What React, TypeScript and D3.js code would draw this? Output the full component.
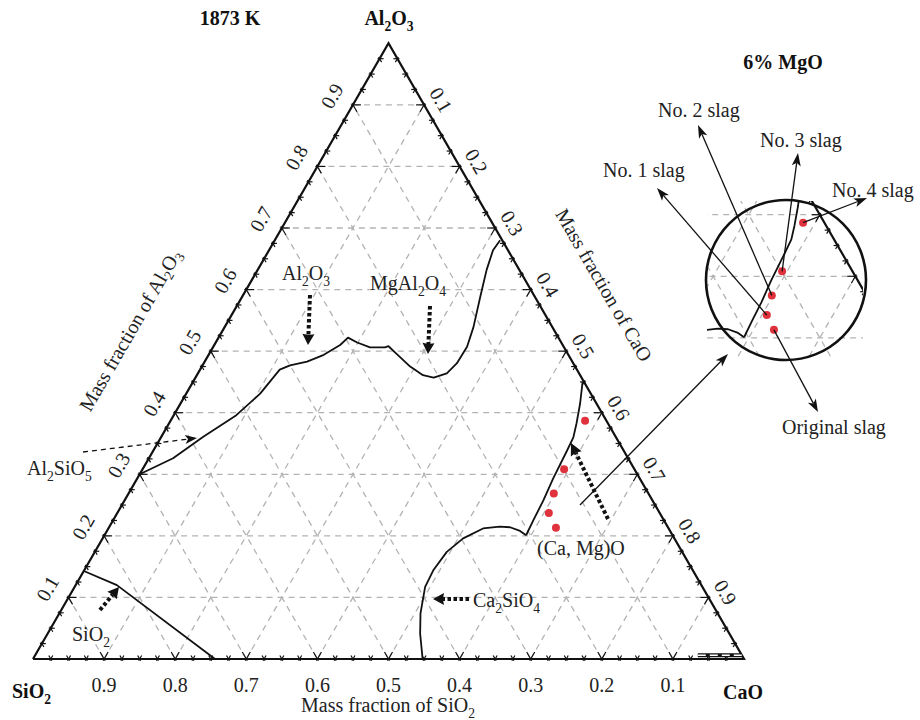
import React from 'react';
import * as d3 from 'd3';

// compositions are [SiO2, CaO, Al2O3] mass fractions
type Comp = [number, number, number];

const topBoundary: Comp[] = [
  [0.700, 0.000, 0.300], [0.640, 0.034, 0.326], [0.580, 0.059, 0.361], [0.516, 0.088, 0.396],
  [0.465, 0.104, 0.431], [0.418, 0.112, 0.470], [0.400, 0.123, 0.477], [0.373, 0.144, 0.483],
  [0.344, 0.162, 0.494], [0.313, 0.177, 0.510], [0.296, 0.182, 0.522], [0.287, 0.199, 0.514],
  [0.273, 0.221, 0.506], [0.252, 0.242, 0.506], [0.246, 0.246, 0.508], [0.241, 0.263, 0.496],
  [0.232, 0.293, 0.475], [0.221, 0.318, 0.461], [0.208, 0.335, 0.457], [0.186, 0.350, 0.464],
  [0.164, 0.356, 0.480], [0.136, 0.357, 0.507], [0.111, 0.350, 0.539], [0.077, 0.335, 0.588],
  [0.046, 0.322, 0.632], [0.021, 0.315, 0.664], [0.003, 0.317, 0.680]
];

const silicaBoundary: Comp[] = [
  [0.857, 0.000, 0.143], [0.822, 0.058, 0.120], [0.744, 0.256, 0.000]
];

const ca2sio4Boundary: Comp[] = [
  [0.452, 0.548, 0.000], [0.435, 0.524, 0.041], [0.418, 0.508, 0.074], [0.390, 0.493, 0.117],
  [0.364, 0.491, 0.145], [0.331, 0.495, 0.174], [0.297, 0.507, 0.196], [0.261, 0.527, 0.212],
  [0.236, 0.549, 0.215], [0.222, 0.564, 0.214], [0.211, 0.581, 0.208], [0.206, 0.593, 0.201]
];

const limeBoundary: Comp[] = [
  [0.206, 0.593, 0.201], [0.183, 0.591, 0.226], [0.153, 0.589, 0.258], [0.122, 0.585, 0.293],
  [0.081, 0.582, 0.337], [0.060, 0.580, 0.360], [0.044, 0.573, 0.383], [0.023, 0.562, 0.415],
  [0.002, 0.548, 0.450]
];

const cornerBoundary: Comp[] = [[0.062, 0.932, 0.006], [0.000, 0.994, 0.006]];

const slagNames = ['Original slag', 'No. 1 slag', 'No. 2 slag', 'No. 3 slag', 'No. 4 slag'];
const slagComps: Comp[] = [
  [0.158, 0.629, 0.213], [0.156, 0.607, 0.237], [0.133, 0.598, 0.269],
  [0.099, 0.593, 0.308], [0.030, 0.583, 0.387]
];

const gridLevels = [0.1, 0.2, 0.3, 0.4, 0.5, 0.6, 0.7, 0.8, 0.9];
const tickLabels = ['0.1', '0.2', '0.3', '0.4', '0.5', '0.6', '0.7', '0.8', '0.9'];
const minorTicks = d3.range(1, 40).map(i => i / 40);

const FONT = '"Liberation Serif", "Times New Roman", serif';

const x = d3.scaleLinear().domain([0, 1]).range([33, 744]);
const y = d3.scaleLinear().domain([0, 1]).range([659, 43.3]);
const proj = (d: Comp): [number, number] => [x(d[1] + d[2] / 2), y(d[2])];
const line = d3.line<Comp>().x(d => proj(d)[0]).y(d => proj(d)[1]);

// label positions for the slags inside the magnified inset
const insetShift = [218, -198];
const slagLabelEnds = [[818, 412], [657, 188], [698, 125], [798, 153], [867, 198]];

function Chem({ text, size }: { text: string; size: number }) {
  const parts = text.split(/_(\d)/);
  const sub = size * 0.3;
  return (
    <>
      {parts.map((p, i) =>
        i % 2 ? (
          <tspan key={i} dy={sub} fontSize={size * 0.68}>{p}</tspan>
        ) : (
          <tspan key={i} dy={i > 0 ? -sub : 0}>{p}</tspan>
        )
      )}
    </>
  );
}

function Arrow({ x1, y1, x2, y2, w = 1.2, dash, head = 12, hw = 4.5, notch = 0.75 }: any) {
  const ang = Math.atan2(y2 - y1, x2 - x1);
  const c = Math.cos(ang), s = Math.sin(ang);
  const bx = x2 - head * c, by = y2 - head * s;
  const nx = x2 - head * notch * c, ny = y2 - head * notch * s;
  const pts = [
    [x2, y2], [bx - hw * s, by + hw * c], [nx, ny], [bx + hw * s, by - hw * c]
  ].map(p => p.join(',')).join(' ');
  return (
    <g>
      <line x1={x1} y1={y1} x2={nx} y2={ny} stroke="#111" strokeWidth={w} strokeDasharray={dash} />
      <polygon points={pts} fill="#111" />
    </g>
  );
}

function PlotBody() {
  const gridSegs: [Comp, Comp][] = [];
  gridLevels.forEach(v => {
    gridSegs.push([[1 - v, 0, v], [0, 1 - v, v]]);
    gridSegs.push([[1 - v, v, 0], [0, v, 1 - v]]);
    gridSegs.push([[v, 1 - v, 0], [v, 0, 1 - v]]);
  });
  const dirs = {
    bottom: [[0.5, -0.866], [-0.5, -0.866]],
    left: [[1, 0], [0.5, 0.866]],
    right: [[-1, 0], [-0.5, 0.866]]
  };
  const ticks: JSX.Element[] = [];
  minorTicks.forEach((t, i) => {
    const major = (i + 1) % 4 === 0;
    const lin = major ? 8 : 4;
    const lout = 2;
    const edges: [string, Comp][] = [
      ['bottom', [1 - t, t, 0]],
      ['left', [1 - t, 0, t]],
      ['right', [0, 1 - t, t]]
    ];
    edges.forEach(([k, comp]) => {
      const [px, py] = proj(comp);
      (dirs as any)[k].forEach((d: number[], j: number) => {
        ticks.push(
          <line key={`${k}${i}${j}`} x1={px - d[0] * lout} y1={py - d[1] * lout}
            x2={px + d[0] * lin} y2={py + d[1] * lin} stroke="#111" strokeWidth={1.2} />
        );
      });
    });
  });
  const corners: Comp[] = [[1, 0, 0], [0, 1, 0], [0, 0, 1], [1, 0, 0]];
  return (
    <g>
      {gridSegs.map((g, i) => (
        <path key={i} d={line(g) || ''} stroke="#b3b3b3" strokeWidth={1.3}
          strokeDasharray="6 5" fill="none" />
      ))}
      {ticks}
      <path d={line(corners) || ''} fill="none" stroke="#111" strokeWidth={2.2} strokeLinejoin="miter" />
      {[topBoundary, silicaBoundary, ca2sio4Boundary, limeBoundary].map((b, i) => (
        <path key={i} d={line(b) || ''} fill="none" stroke="#111" strokeWidth={1.8} strokeLinejoin="round" />
      ))}
      <path d={line(cornerBoundary) || ''} stroke="#111" strokeWidth={4} fill="none" />
      <path d={line(cornerBoundary) || ''} stroke="#fff" strokeWidth={1.4} strokeDasharray="8 4" fill="none" />
      {slagComps.map((d, i) => {
        const [px, py] = proj(d);
        return <circle key={i} cx={px} cy={py} r={4} fill="#e0323c" />;
      })}
    </g>
  );
}

export default function App() {
  const fs = 20;
  return (
    <svg width={920} height={720} style={{ position: 'absolute', left: 0, top: 0, background: '#fff' }}
      fontFamily={FONT}>
      <defs>
        <clipPath id="insetClip">
          <rect x={707} y={201} width={156} height={157} />
        </clipPath>
      </defs>
      <rect width={920} height={720} fill="#fff" />
      <PlotBody />

      {/* tick labels */}
      {gridLevels.map((v, i) => {
        const [bx, by] = proj([v, 1 - v, 0]);
        const [lx, ly] = proj([1 - v, 0, v]);
        const [rx, ry] = proj([0, v, 1 - v]);
        return (
          <g key={i} fontSize={fs} fill="#222">
            <text x={bx} y={by + 26} textAnchor="middle" dominantBaseline="central">{tickLabels[i]}</text>
            <text transform={`translate(${lx - 21},${ly - 9}) rotate(-60)`} textAnchor="middle"
              dominantBaseline="central">{tickLabels[i]}</text>
            <text transform={`translate(${rx + 17},${ry - 5}) rotate(60)`} textAnchor="middle"
              dominantBaseline="central">{tickLabels[i]}</text>
          </g>
        );
      })}

      {/* axis titles */}
      <text x={388} y={712} textAnchor="middle" fontSize={fs} fill="#222">
        <Chem text="Mass fraction of SiO_2" size={fs} />
      </text>
      <text transform="translate(130,330) rotate(-60)" textAnchor="middle" dominantBaseline="central"
        fontSize={fs} fill="#222">
        <Chem text="Mass fraction of Al_2O_3" size={fs} />
      </text>
      <text transform="translate(604,285) rotate(60)" textAnchor="middle" dominantBaseline="central"
        fontSize={fs} fill="#222">
        Mass fraction of CaO
      </text>

      {/* corner labels */}
      <g fontWeight="bold" fontSize={fs} fill="#111">
        <text x={230} y={25} textAnchor="middle">1873 K</text>
        <text x={389} y={25} textAnchor="middle"><Chem text="Al_2O_3" size={fs} /></text>
        <text x={12} y={698}><Chem text="SiO_2" size={fs} /></text>
        <text x={723} y={699}>CaO</text>
        <text x={783} y={69} textAnchor="middle">6% MgO</text>
      </g>

      {/* phase field labels */}
      <g fontSize={fs} fill="#222">
        <text x={306} y={280} textAnchor="middle"><Chem text="Al_2O_3" size={fs} /></text>
        <text x={408} y={290} textAnchor="middle"><Chem text="MgAl_2O_4" size={fs} /></text>
        <text x={27} y={475}><Chem text="Al_2SiO_5" size={fs} /></text>
        <text x={72} y={641}><Chem text="SiO_2" size={fs} /></text>
        <text x={537} y={555}>(Ca, Mg)O</text>
        <text x={473} y={607}><Chem text="Ca_2SiO_4" size={fs} /></text>
      </g>
      <Arrow x1={310} y1={295} x2={308} y2={345} w={4} dash="3.5 2.5" head={11} hw={6} notch={0.9} />
      <Arrow x1={430} y1={306} x2={428} y2={354} w={4} dash="3.5 2.5" head={11} hw={6} notch={0.9} />
      <Arrow x1={100} y1={610} x2={119} y2={587} w={4} dash="3.5 2.5" head={11} hw={6} notch={0.9} />
      <Arrow x1={608} y1={519} x2={571} y2={443} w={4} dash="3.5 2.5" head={12} hw={6} notch={0.9} />
      <Arrow x1={469} y1={599} x2={433} y2={599} w={4} dash="3.5 2.5" head={11} hw={6} notch={0.9} />
      <Arrow x1={83} y1={452} x2={197} y2={438} w={1.3} dash="5 4" head={12} hw={4.5} />

      {/* magnified inset */}
      <g clipPath="url(#insetClip)">
        <g transform={`translate(${insetShift[0]},${insetShift[1]})`}>
          <PlotBody />
        </g>
      </g>
      <circle cx={786} cy={280} r={80} fill="none" stroke="#111" strokeWidth={2.6} />
      <Arrow x1={580} y1={505} x2={728} y2={354} w={1.3} head={13} hw={4.5} />
      {slagComps.map((d, i) => {
        const [px, py] = proj(d);
        const [ex, ey] = slagLabelEnds[i];
        return (
          <Arrow key={i} x1={px + insetShift[0]} y1={py + insetShift[1]} x2={ex} y2={ey}
            w={1.3} head={13} hw={4.5} />
        );
      })}
      <g fontSize={fs} fill="#222">
        <text x={782} y={434}>{slagNames[0]}</text>
        <text x={603} y={177}>{slagNames[1]}</text>
        <text x={658} y={117}>{slagNames[2]}</text>
        <text x={760} y={147}>{slagNames[3]}</text>
        <text x={832} y={197}>{slagNames[4]}</text>
      </g>
    </svg>
  );
}
